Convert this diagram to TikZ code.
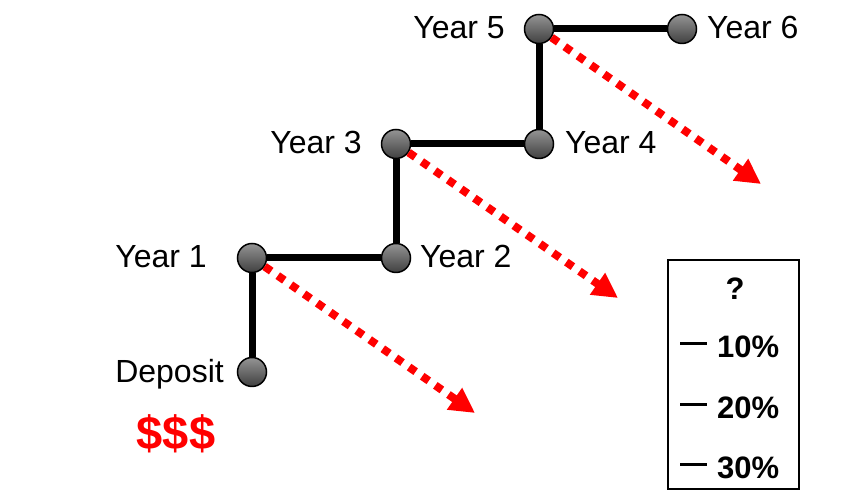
\documentclass[tikz,border=0pt]{standalone}
\usepackage{fontspec}
\setmainfont{Liberation Sans}
\usetikzlibrary{arrows.meta}
\definecolor{ballTop}{gray}{0.58}
\definecolor{ballBot}{gray}{0.25}
\tikzset{
  ball/.style={circle, draw=black, line width=1.5bp, minimum size=29bp, inner sep=0pt,
    top color=ballTop, bottom color=ballBot},
  lbl/.style={inner sep=0pt, font=\fontsize{32bp}{37bp}\selectfont},
  pct/.style={inner sep=0pt, font=\fontsize{31bp}{36bp}\selectfont\bfseries},
  path/.style={line width=7bp, black},
  trend/.style={red, line width=8bp, dash pattern=on 8bp off 8bp,
    -{Triangle[length=25bp, width=25bp]}},
  tick/.style={line width=3bp, black}
}
\begin{document}
\begin{tikzpicture}[x=1bp, y=1bp]
  \useasboundingbox (0,0) rectangle (848,493);

  % stations of the savings path
  \node[ball] (dep) at (252,121) {};
  \node[ball] (y1) at (252,235) {};
  \node[ball] (y2) at (396,235) {};
  \node[ball] (y3) at (396,349) {};
  \node[ball] (y4) at (539,349) {};
  \node[ball] (y5) at (539,464) {};
  \node[ball] (y6) at (682,464) {};

  % the stair-step path
  \draw[path] (dep) -- (y1);
  \draw[path] (y1) -- (y2);
  \draw[path] (y2) -- (y3);
  \draw[path] (y3) -- (y4);
  \draw[path] (y4) -- (y5);
  \draw[path] (y5) -- (y6);

  % labels
  \node[lbl, anchor=base east] (tdep) at (224,110) {Deposit};
  \node[lbl, anchor=base east] (t1) at (207,225) {Year 1};
  \node[lbl, anchor=base west] (t2) at (420,225) {Year 2};
  \node[lbl, anchor=base east] (t3) at (362,339) {Year 3};
  \node[lbl, anchor=base west] (t4) at (565,339) {Year 4};
  \node[lbl, anchor=base east] (t5) at (505,454) {Year 5};
  \node[lbl, anchor=base west] (t6) at (707,454) {Year 6};

  \node[inner sep=0pt, red, font=\fontsize{47bp}{52bp}\selectfont\bfseries] (money) at (176,59) {\$\$\$};

  % red dotted trend arrows
  \coordinate (a1) at (475,80);
  \coordinate (a3) at (618,195);
  \coordinate (a5) at (761,309);
  \draw[trend] (y1.-34.8) -- (a1);
  \draw[trend] (y3.-34.8) -- (a3);
  \draw[trend] (y5.-34.8) -- (a5);

  % rate choice box
  \node[draw=black, line width=1.5bp, minimum width=131bp, minimum height=229bp,
        inner sep=0pt] (box) at (733.5,118.5) {};
  \node[pct] (q) at (735,204) {?};
  \node[pct, anchor=base west] (r10) at (717,135) {10\%};
  \node[pct, anchor=base west] (r20) at (717,74.5) {20\%};
  \node[pct, anchor=base west] (r30) at (717,14) {30\%};
  \coordinate (d10) at (680,149);
  \coordinate (d20) at (680,88.5);
  \coordinate (d30) at (680,28);
  \draw[tick] (d10) -- ++(27,0);
  \draw[tick] (d20) -- ++(27,0);
  \draw[tick] (d30) -- ++(27,0);
\end{tikzpicture}
\end{document}
